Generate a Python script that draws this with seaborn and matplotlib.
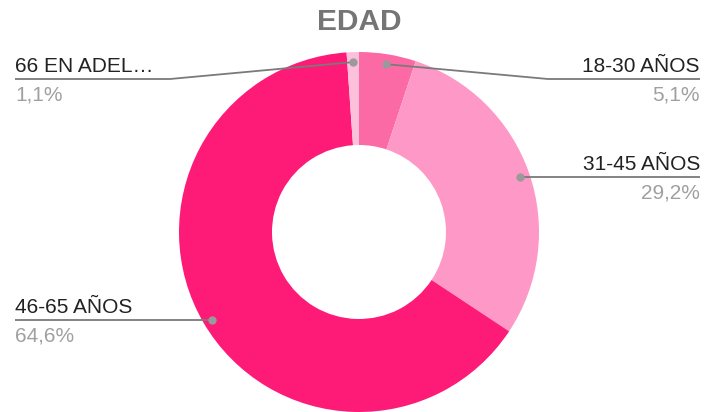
import numpy as np
import matplotlib.pyplot as plt
import seaborn as sns

# data
categories = ["18-30 AÑOS", "31-45 AÑOS", "46-65 AÑOS", "66 EN ADEL…"]
values = [5.1, 29.2, 64.6, 1.1]
pct_labels = ["5,1%", "29,2%", "64,6%", "1,1%"]
colors = ["#fc6aa6", "#fe99c7", "#fe1a77", "#fdc0dc"]

sns.set_theme(style="white")
plt.rcParams["font.family"] = ["Liberation Sans", "DejaVu Sans"]

W, H = 704, 412
fig = plt.figure(figsize=(W / 100, H / 100), dpi=100)
ax = fig.add_axes([0, 0, 1, 1])

cx, cy, R = 359, H - 232, 180
wedges, _ = ax.pie(values, colors=colors, startangle=90, counterclock=False,
                   center=(cx, cy), radius=R,
                   wedgeprops={"width": R - 87, "linewidth": 0})
ax.set_xlim(0, W)
ax.set_ylim(0, H)
ax.set_aspect("equal")
ax.axis("off")

# label layout: (side, line y in image px, elbow x)
layout = [("right", 79, 548), ("right", 177, None), ("left", 320, None), ("left", 79, 170)]
line_col = "#7a7a7a"
fs = 15
for w, name, pct, (side, ly, ex) in zip(wedges, categories, pct_labels, layout):
    mid = np.deg2rad((w.theta1 + w.theta2) / 2)
    dx, dy = cx + 170 * np.cos(mid), cy + 170 * np.sin(mid)
    y = H - ly
    xe = 700 if side == "right" else 15
    ha = "right" if side == "right" else "left"
    if ex:
        pts_x, pts_y = [dx, ex, xe], [dy, y, y]
    else:
        pts_x, pts_y = [dx, xe], [y, y]
    ax.plot(pts_x, pts_y, color=line_col, lw=1.3, solid_capstyle="butt")
    ax.plot([pts_x[0]], [pts_y[0]], "o", color="#9a9a9a", ms=5)
    ax.text(xe, y + 7, name, ha=ha, va="baseline", fontsize=fs, color="#222222")
    ax.text(xe, y - 21, pct, ha=ha, va="baseline", fontsize=fs, color="#a0a0a0")

fig.text(cx / W, 1 - 22 / H, "EDAD", ha="center", va="center",
         fontsize=21.5, fontweight="bold", color="#757575")

fig.savefig("out.png", dpi=100)
